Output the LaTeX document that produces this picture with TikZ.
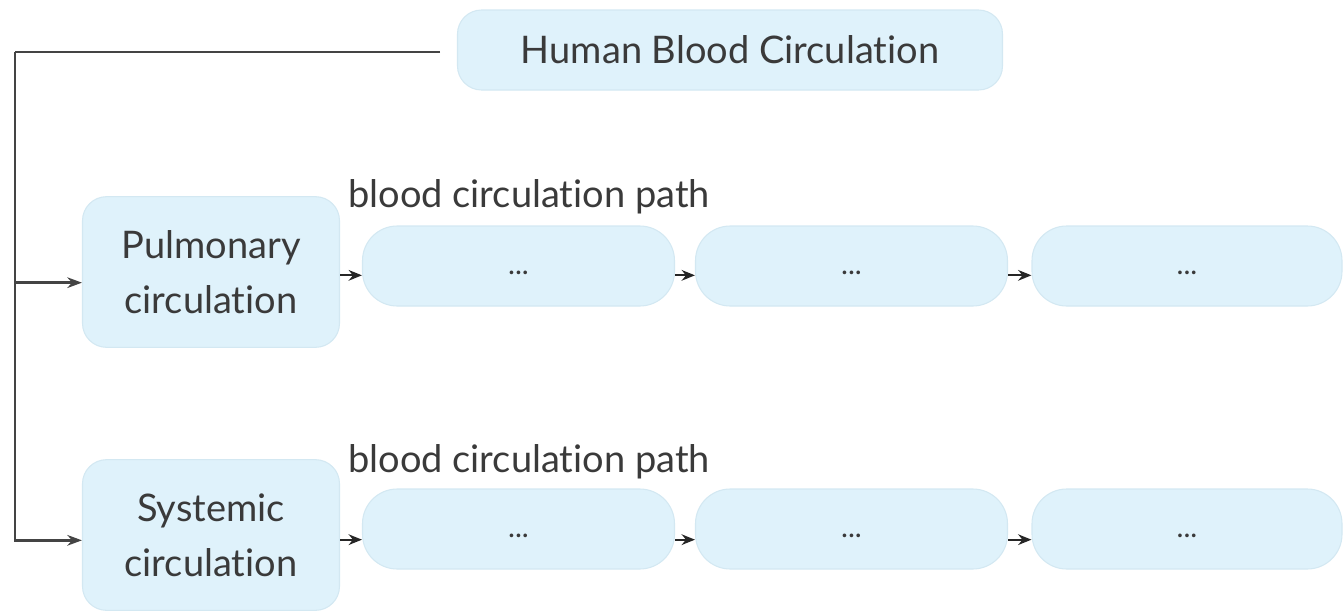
\documentclass[tikz,border=0pt]{standalone}
\usepackage{fontspec}
\setmainfont{Lato}[Ligatures={NoCommon,NoRare,NoDiscretionary}]
\usetikzlibrary{arrows.meta}
\definecolor{boxfill}{HTML}{DFF2FB}
\definecolor{boxline}{HTML}{D3E8F2}
\definecolor{txt}{HTML}{3A3A3A}
\definecolor{ln}{HTML}{444444}
\tikzset{
  box/.style={draw=boxline, line width=0.8pt, fill=boxfill, inner sep=0pt, text=txt},
  titlebox/.style={box, rounded corners=18pt, minimum width=408.75pt, minimum height=60pt,
    font=\fontsize{28.5}{40}\selectfont},
  mainbox/.style={box, align=center, rounded corners=18pt, minimum width=192.75pt, minimum height=113pt,
    font=\fontsize{28.5}{41}\selectfont},
  stepbox/.style={box, rounded corners=26pt, minimum width=234pt, minimum height=60pt,
    text height=13pt, text depth=0pt, font=\fontsize{22}{26}\selectfont},
  lbl/.style={text=txt, font=\fontsize{28.5}{34}\selectfont, anchor=base west, inner sep=0pt},
  feed/.style={draw=ln, line width=1.8pt, -{Stealth[length=11pt,width=8pt]}},
  link/.style={draw=black!85, line width=1.5pt, -{Stealth[length=10pt,width=8pt]}}
}
\begin{document}
\begin{tikzpicture}[x=0.75pt, y=-0.75pt]
\useasboundingbox (0,0) rectangle (1343,611);
\node[titlebox] (t) at (730,50) {Human Blood Circulation};
\node[mainbox] (p) at (211,272) {Pulmonary\\circulation};
\node[mainbox] (s) at (211,535) {Systemic\\circulation};
\node[stepbox] (p1) at (518.5,266) {...};
\node[stepbox] (p2) at (851.5,266) {...};
\node[stepbox, minimum width=232.5pt] (p3) at (1187,266) {...};
\node[stepbox] (s1) at (518.5,529) {...};
\node[stepbox] (s2) at (851.5,529) {...};
\node[stepbox, minimum width=232.5pt] (s3) at (1187,529) {...};
\node[lbl] (l1) at (348,207) {blood circulation path};
\node[lbl] (l2) at (348,472) {blood circulation path};
\coordinate (ts) at (440,52);
\coordinate (bend) at (15,52);
\draw[draw=ln, line width=1.8pt] (ts) -- (bend);
\draw[feed] (bend) |- ([yshift=-8pt]p.west);
\draw[feed] (bend) |- ([yshift=-4pt]s.west);
\draw[link] ([yshift=-7pt]p1.west -| p.east) -- ([yshift=-7pt]p1.west);
\draw[link] ([yshift=-7pt]p1.east) -- ([yshift=-7pt]p2.west);
\draw[link] ([yshift=-7pt]p2.east) -- ([yshift=-7pt]p3.west);
\draw[link] ([yshift=-8pt]s1.west -| s.east) -- ([yshift=-8pt]s1.west);
\draw[link] ([yshift=-8pt]s1.east) -- ([yshift=-8pt]s2.west);
\draw[link] ([yshift=-8pt]s2.east) -- ([yshift=-8pt]s3.west);
\end{tikzpicture}
\end{document}
